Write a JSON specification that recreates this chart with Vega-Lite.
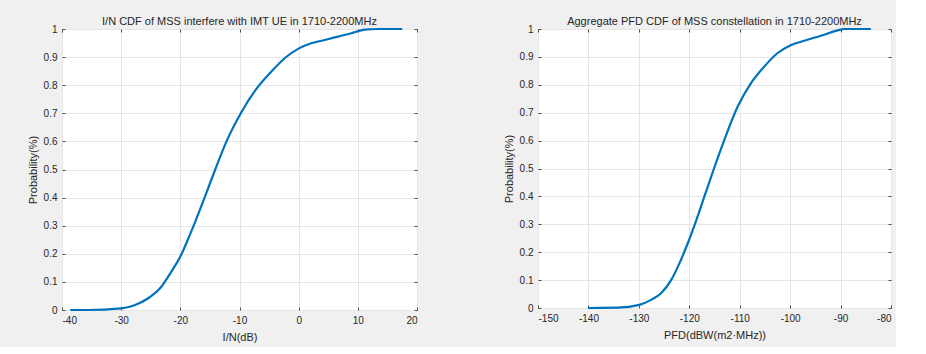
{
  "$schema": "https://vega.github.io/schema/vega-lite/v6.json",
  "background": "#f0f0f0",
  "padding": {"left": 26, "top": 15, "right": 4, "bottom": 4},
  "spacing": 121,
  "bounds": "flush",
  "datasets": {
    "in_cdf": [
      {"x": -38.6, "p": 0},
      {"x": -35.6, "p": 0},
      {"x": -30.0, "p": 0.006},
      {"x": -27.75, "p": 0.017},
      {"x": -25.5, "p": 0.041},
      {"x": -23.25, "p": 0.082},
      {"x": -21.56, "p": 0.135},
      {"x": -20.0, "p": 0.19},
      {"x": -18.73, "p": 0.25},
      {"x": -17.75, "p": 0.3},
      {"x": -15.9, "p": 0.4},
      {"x": -14.1, "p": 0.5},
      {"x": -12.2, "p": 0.6},
      {"x": -9.71, "p": 0.703},
      {"x": -6.89, "p": 0.794},
      {"x": -4.64, "p": 0.848},
      {"x": -2.37, "p": 0.896},
      {"x": 0.05, "p": 0.931},
      {"x": 2.13, "p": 0.949},
      {"x": 4.4, "p": 0.961},
      {"x": 6.65, "p": 0.973},
      {"x": 8.9, "p": 0.985},
      {"x": 11.17, "p": 0.998},
      {"x": 13.4, "p": 1.0},
      {"x": 17.5, "p": 1.0}
    ],
    "pfd_cdf": [
      {"x": -140.1, "p": 0},
      {"x": -134.2, "p": 0.001},
      {"x": -129.9, "p": 0.011},
      {"x": -127.6, "p": 0.029},
      {"x": -125.6, "p": 0.053},
      {"x": -123.6, "p": 0.1},
      {"x": -121.96, "p": 0.16},
      {"x": -120.3, "p": 0.232},
      {"x": -118.9, "p": 0.3},
      {"x": -117.0, "p": 0.4},
      {"x": -115.1, "p": 0.5},
      {"x": -113.1, "p": 0.6},
      {"x": -110.4, "p": 0.722},
      {"x": -107.76, "p": 0.806},
      {"x": -105.1, "p": 0.866},
      {"x": -102.47, "p": 0.914},
      {"x": -100.0, "p": 0.941},
      {"x": -97.2, "p": 0.958},
      {"x": -93.9, "p": 0.976},
      {"x": -90.57, "p": 0.995},
      {"x": -89.2, "p": 1.0},
      {"x": -84.0, "p": 1.0}
    ]
  },
  "config": {
    "font": "Liberation Sans",
    "view": {"stroke": "#a6a6a6", "strokeWidth": 1, "fill": "white"},
    "title": {"fontSize": 11, "fontWeight": "normal", "color": "#262626", "offset": -3, "anchor": "middle"},
    "axis": {
      "labelFont": "Liberation Sans",
      "titleFont": "Liberation Sans",
      "labelFontSize": 10,
      "titleFontSize": 11,
      "titleFontWeight": "normal",
      "labelColor": "#262626",
      "titleColor": "#262626",
      "domain": false,
      "ticks": false,
      "tickColor": "#4d4d4d",
      "tickSize": 3,
      "gridColor": "#e6e6e6",
      "gridWidth": 1
    }
  },
  "hconcat": [
    {
      "width": 355,
      "height": 281,
      "title": "I/N CDF of MSS interfere with IMT UE in 1710-2200MHz",
      "data": {"name": "in_cdf"},
      "layer": [
        {
          "mark": {"type": "line", "color": "#0072bd", "strokeWidth": 2.2, "interpolate": "monotone"},
          "encoding": {
            "x": {"field": "x", "type": "quantitative", "scale": {"domain": [-40, 20], "nice": false},
                  "axis": {"values": [-40, -30, -20, -10, 0, 10, 20], "labelExpr": "'' + datum.value", "title": "I/N(dB)", "labelPadding": 5, "titlePadding": 6, "grid": true}},
            "y": {"field": "p", "type": "quantitative", "scale": {"domain": [0, 1], "nice": false},
                  "axis": {"values": [0, 0.1, 0.2, 0.3, 0.4, 0.5, 0.6, 0.7, 0.8, 0.9, 1], "format": ".1~f", "title": "Probability(%)", "labelPadding": 5, "titlePadding": 5, "grid": true}}
          }
        },
        {
          "description": "inward ticks on the bottom and left edges",
          "mark": {"type": "line", "opacity": 0},
          "encoding": {
            "x": {"field": "x", "type": "quantitative", "axis": {"orient": "top", "offset": -281, "values": [-40, -30, -20, -10, 0, 10, 20], "ticks": true, "labels": false, "title": null, "grid": false}},
            "y": {"field": "p", "type": "quantitative", "axis": {"orient": "right", "offset": -355, "values": [0, 0.1, 0.2, 0.3, 0.4, 0.5, 0.6, 0.7, 0.8, 0.9, 1], "ticks": true, "labels": false, "title": null, "grid": false}}
          }
        },
        {
          "description": "inward ticks on the top and right edges",
          "mark": {"type": "line", "opacity": 0},
          "encoding": {
            "x": {"field": "x", "type": "quantitative", "axis": {"orient": "bottom", "offset": -281, "values": [-40, -30, -20, -10, 0, 10, 20], "ticks": true, "labels": false, "title": null, "grid": false}},
            "y": {"field": "p", "type": "quantitative", "axis": {"orient": "left", "offset": -355, "values": [0, 0.1, 0.2, 0.3, 0.4, 0.5, 0.6, 0.7, 0.8, 0.9, 1], "ticks": true, "labels": false, "title": null, "grid": false}}
          }
        }
      ],
      "resolve": {"axis": {"x": "independent", "y": "independent"}}
    },
    {
      "width": 353,
      "height": 279,
      "title": "Aggregate PFD CDF of MSS constellation in 1710-2200MHz",
      "data": {"name": "pfd_cdf"},
      "layer": [
        {
          "mark": {"type": "line", "color": "#0072bd", "strokeWidth": 2.2, "interpolate": "monotone"},
          "encoding": {
            "x": {"field": "x", "type": "quantitative", "scale": {"domain": [-150, -80], "nice": false},
                  "axis": {"values": [-150, -140, -130, -120, -110, -100, -90, -80], "labelExpr": "'' + datum.value", "title": "PFD(dBW(m2·MHz))", "labelPadding": 5, "titlePadding": 6, "grid": true}},
            "y": {"field": "p", "type": "quantitative", "scale": {"domain": [0, 1], "nice": false},
                  "axis": {"values": [0, 0.1, 0.2, 0.3, 0.4, 0.5, 0.6, 0.7, 0.8, 0.9, 1], "format": ".1~f", "title": "Probability(%)", "labelPadding": 5, "titlePadding": 5, "grid": true}}
          }
        },
        {
          "description": "inward ticks on the bottom and left edges",
          "mark": {"type": "line", "opacity": 0},
          "encoding": {
            "x": {"field": "x", "type": "quantitative", "axis": {"orient": "top", "offset": -279, "values": [-150, -140, -130, -120, -110, -100, -90, -80], "ticks": true, "labels": false, "title": null, "grid": false}},
            "y": {"field": "p", "type": "quantitative", "axis": {"orient": "right", "offset": -353, "values": [0, 0.1, 0.2, 0.3, 0.4, 0.5, 0.6, 0.7, 0.8, 0.9, 1], "ticks": true, "labels": false, "title": null, "grid": false}}
          }
        },
        {
          "description": "inward ticks on the top and right edges",
          "mark": {"type": "line", "opacity": 0},
          "encoding": {
            "x": {"field": "x", "type": "quantitative", "axis": {"orient": "bottom", "offset": -279, "values": [-150, -140, -130, -120, -110, -100, -90, -80], "ticks": true, "labels": false, "title": null, "grid": false}},
            "y": {"field": "p", "type": "quantitative", "axis": {"orient": "left", "offset": -353, "values": [0, 0.1, 0.2, 0.3, 0.4, 0.5, 0.6, 0.7, 0.8, 0.9, 1], "ticks": true, "labels": false, "title": null, "grid": false}}
          }
        }
      ],
      "resolve": {"axis": {"x": "independent", "y": "independent"}}
    }
  ]
}
